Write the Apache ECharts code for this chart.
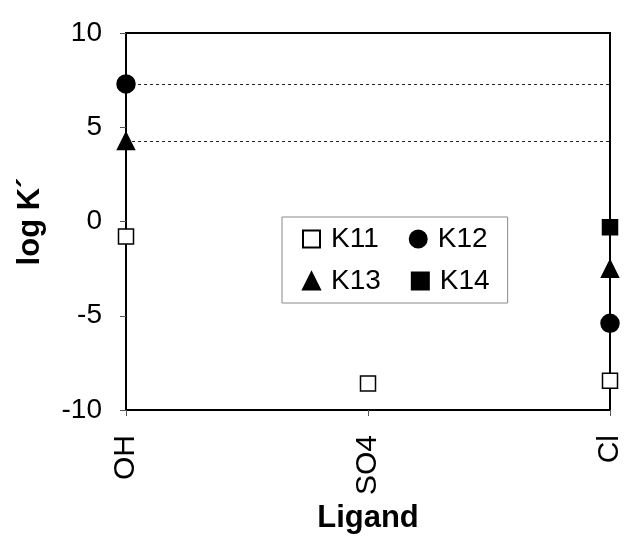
<!DOCTYPE html>
<html><head><meta charset="utf-8">
<script src="https://cdn.jsdelivr.net/npm/echarts@6/dist/echarts.min.js"></script>
<style>html,body{margin:0;padding:0;background:#fff}#c{width:625px;height:545px}</style>
</head><body><div id="c"></div>
<script>
const categories = ['OH', 'SO4', 'Cl'];
const yTicks = [-10, -5, 0, 5, 10];
const K11 = [-0.8, -8.6, -8.45];
const K12 = [7.3, null, -5.4];
const K13 = [4.27, null, -2.5];
const K14 = [null, null, -0.3];
const seriesNames = ['K11', 'K12', 'K13', 'K14'];

const font = 'Liberation Sans, Arial, sans-serif';
const chart = echarts.init(document.getElementById('c'));
function sc(name, data, symbol, fill, size) {
  return {
    name, type: 'scatter', data, symbol, symbolSize: size, clip: false,
    itemStyle: { color: fill, borderColor: '#000', borderWidth: 1.5, opacity: 1 },
    z: 5
  };
}
const s11 = sc('K11', K11, 'rect', '#fff', 15);
const s12 = sc('K12', K12, 'circle', '#000', 18);
const s13 = sc('K13', K13, 'triangle', '#000', 17);
const s14 = sc('K14', K14, 'rect', '#000', 15);
s12.markLine = {
  silent: true, symbol: 'none', label: { show: false },
  lineStyle: { type: [3, 3], color: '#222', width: 1 },
  data: [{ yAxis: K12[0] }, { yAxis: K13[0] }]
};
chart.setOption({
  animation: false,
  backgroundColor: '#fff',
  grid: { left: 126, right: 13, top: 33, bottom: 135, show: true, borderColor: '#000', borderWidth: 2, backgroundColor: 'transparent' },
  legend: {
    data: seriesNames, left: 282, top: 217, width: 215,
    padding: [7, 0, 7, 20], itemGap: 12, itemWidth: 17, itemHeight: 17,
    borderColor: '#888', borderWidth: 1, backgroundColor: '#fff',
    textStyle: { fontFamily: font, fontSize: 28, lineHeight: 30, color: '#000', padding: [0, 18, 0, 6] }
  },
  xAxis: {
    type: 'category', data: categories, boundaryGap: false,
    name: 'Ligand', nameLocation: 'middle', nameGap: 92,
    nameTextStyle: { fontFamily: font, fontSize: 31, fontWeight: 'bold', color: '#000' },
    axisLine: { onZero: false, lineStyle: { color: '#000', width: 2 } },
    axisTick: { show: true, length: 6, alignWithLabel: true, lineStyle: { color: '#555' } },
    axisLabel: { rotate: 90, margin: 25, fontFamily: font, fontSize: 30, color: '#000' },
    splitLine: { show: false }
  },
  yAxis: {
    type: 'value', min: yTicks[0], max: yTicks[yTicks.length - 1], interval: 5,
    name: 'log K\u00B4', nameLocation: 'middle', nameGap: 80, nameRotate: 90,
    nameTextStyle: { fontFamily: font, fontSize: 31, fontWeight: 'bold', color: '#000' },
    axisLine: { show: true, onZero: false, lineStyle: { color: '#000', width: 2 } },
    axisTick: { show: true, length: 6, lineStyle: { color: '#555' } },
    axisLabel: { margin: 24, fontFamily: font, fontSize: 28, color: '#000' },
    splitLine: { show: false }
  },
  series: [s11, s12, s13, s14]
});
</script></body></html>
